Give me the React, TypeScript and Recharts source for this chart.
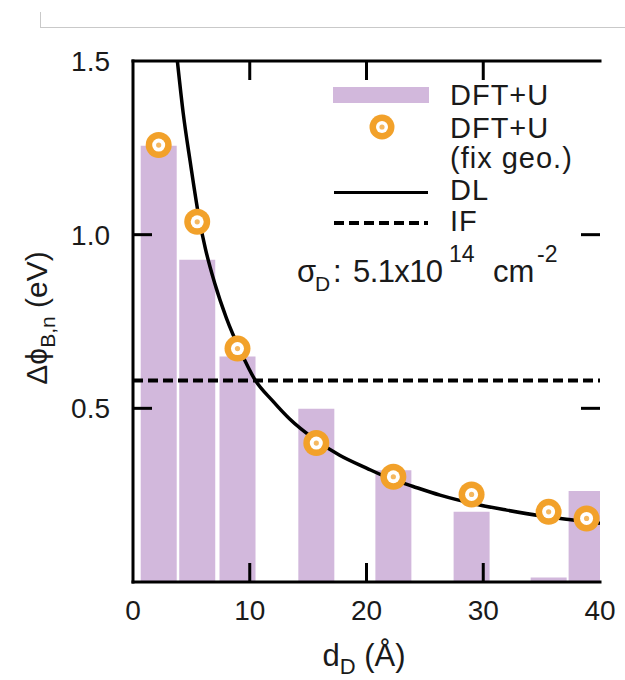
import React from "react";
import {
  ComposedChart, Bar, Line, Scatter, XAxis, YAxis, ReferenceLine,
} from "recharts";

// distance of the defect layer from the interface (Å)
const dValues = [2.2, 5.5, 8.95, 15.7, 22.3, 29.0, 35.6, 38.85];
// barrier change from full DFT+U (eV)
const dftValues = [1.256, 0.928, 0.649, 0.499, 0.322, 0.202, 0.013, 0.262];
// DFT+U with fixed geometry (eV)
const fixGeoValues = [1.258, 1.037, 0.672, 0.4, 0.303, 0.252, 0.202, 0.183];

// dipole-layer model curve
const dlD = [3.8, 4.3, 4.9, 5.7, 6.2, 7.0, 8.0, 9.2, 10.4, 12.0, 13.4, 15.6, 17.7, 20.0, 22.0, 24.0, 26.3, 29.1, 32.0, 35.0, 37.5, 40.0];
const dlValues = [1.5, 1.35, 1.21, 1.04, 0.96, 0.86, 0.76, 0.665, 0.585, 0.52, 0.47, 0.41, 0.365, 0.328, 0.298, 0.275, 0.25, 0.226, 0.207, 0.19, 0.179, 0.169];

// interface-only model (eV)
const ifValue = 0.58;

const xTicks = [0, 10, 20, 30, 40];
const yTicks = [0.5, 1.0, 1.5];
const innerTicksX = [10, 20, 30];
const innerTicksY = [0.5, 1.0];

const barData = dValues.map((d, i) => ({ d, dft: dftValues[i] }));
const fixData = dValues.map((d, i) => ({ d, fix: fixGeoValues[i] }));
const dlData = dlD.map((d, i) => ({ d, dl: dlValues[i] }));

// inward tick marks on all four sides, placed through the chart scales
const tickMarks = [
  ...innerTicksX.map((d) => ({ d, v: 0, side: "bottom" })),
  ...innerTicksX.map((d) => ({ d, v: 1.5, side: "top" })),
  ...innerTicksY.map((v) => ({ d: 0, v, side: "left" })),
  ...innerTicksY.map((v) => ({ d: 40, v, side: "right" })),
];

const PURPLE = "#d2b8dc";
const ORANGE = "#f2a12a";
const FONT = "'Liberation Sans', Arial, Helvetica, sans-serif";
const TICK_LEN = 19;

const frame = { stroke: "#000", strokeWidth: 3, strokeLinecap: "square" as const };
const tickStyle = { fontSize: 28, fill: "#1a1a1a", fontFamily: FONT };
const blank = () => "";

function Ring(props: any) {
  const { cx, cy } = props;
  if (cx == null || cy == null) return null;
  return (
    <g>
      <circle cx={cx} cy={cy} r={13} fill={ORANGE} />
      <circle cx={cx} cy={cy} r={6.5} fill="#fff" />
      <circle cx={cx} cy={cy} r={2.6} fill="#f5b860" />
    </g>
  );
}

function TickMark(props: any) {
  const { cx, cy, payload } = props;
  if (cx == null || cy == null) return null;
  const side = payload?.side;
  let x2 = cx;
  let y2 = cy;
  if (side === "bottom") y2 = cy - TICK_LEN;
  else if (side === "top") y2 = cy + TICK_LEN;
  else if (side === "left") x2 = cx + TICK_LEN;
  else x2 = cx - TICK_LEN;
  return <path d={`M${cx},${cy}L${x2},${y2}`} stroke="#000" strokeWidth={3} fill="none" />;
}

export default function App() {
  return (
    <div style={{ position: "absolute", left: 0, top: 0, width: 625, height: 680, background: "#fff" }}>
      {/* page edge from the cropped figure */}
      <div style={{ position: "absolute", left: 40, top: 27, width: 585, height: 0, borderTop: "1.5px solid #c9c9c9" }} />
      <div style={{ position: "absolute", left: 40, top: 12, width: 0, height: 16, borderLeft: "1.5px solid #c9c9c9" }} />

      <ComposedChart
        width={625}
        height={680}
        data={barData}
        margin={{ top: 61, right: 25, bottom: 58, left: 0 }}
        style={{ position: "absolute", left: 0, top: 0 }}
      >
        <XAxis
          dataKey="d"
          type="number"
          domain={[0, 40]}
          ticks={xTicks}
          interval={0}
          allowDataOverflow
          height={40}
          axisLine={frame}
          tickLine={false}
          tickSize={0}
          tickMargin={18}
          tick={tickStyle}
        />
        <YAxis
          type="number"
          domain={[0, 1.5]}
          ticks={yTicks}
          interval={0}
          allowDataOverflow
          width={133}
          axisLine={frame}
          tickLine={false}
          tickSize={0}
          tickMargin={23}
          tick={tickStyle}
          tickFormatter={(v: number) => v.toFixed(1)}
        />
        {/* axis used only to place the bars */}
        <XAxis xAxisId="bars" dataKey="d" type="number" domain={[0, 40]} allowDataOverflow hide />

        {/* top and right sides of the frame */}
        <XAxis xAxisId="top" orientation="top" mirror type="number" domain={[0, 40]} allowDataOverflow
          ticks={innerTicksX} axisLine={frame} tickLine={false} tickFormatter={blank} />
        <YAxis yAxisId="right" orientation="right" mirror type="number" domain={[0, 1.5]} allowDataOverflow
          ticks={innerTicksY} width={0} axisLine={frame} tickLine={false} tickFormatter={blank} />

        <Bar xAxisId="bars" dataKey="dft" fill={PURPLE} barSize={36} isAnimationActive={false} />
        <Scatter data={fixData} dataKey="fix" shape={Ring} isAnimationActive={false} />
        <ReferenceLine y={ifValue} stroke="#000" strokeWidth={4} strokeDasharray="10 5" />
        <Line
          data={dlData}
          dataKey="dl"
          type="monotone"
          stroke="#000"
          strokeWidth={3.5}
          dot={false}
          activeDot={false}
          isAnimationActive={false}
        />
        <Scatter data={tickMarks} dataKey="v" shape={TickMark} isAnimationActive={false} />
      </ComposedChart>

      {/* legend, annotation and axis titles */}
      <svg
        width={625}
        height={680}
        style={{ position: "absolute", left: 0, top: 0, pointerEvents: "none" }}
        fontFamily={FONT}
        fill="#1a1a1a"
      >
        <g fontSize={29} letterSpacing={1}>
          <rect x={333} y={87} width={96} height={16} fill={PURPLE} />
          <text x={450} y={105}>DFT+U</text>

          <circle cx={382} cy={127} r={12.5} fill={ORANGE} />
          <circle cx={382} cy={127} r={6} fill="#fff" />
          <circle cx={382} cy={127} r={2.6} fill="#f5b860" />
          <text x={450} y={138}>DFT+U</text>
          <text x={450} y={168}>(fix geo.)</text>

          <line x1={334} x2={428} y1={192.5} y2={192.5} stroke="#000" strokeWidth={3} />
          <text x={450} y={200}>DL</text>

          <line x1={334} x2={428} y1={223} y2={223} stroke="#000" strokeWidth={4} strokeDasharray="10 5" />
          <text x={450} y={231}>IF</text>
        </g>

        <g fontSize={31}>
          <text x={297} y={282}>σ</text>
          <text x={315} y={291} fontSize={21}>D</text>
          <text x={333} y={282}>:</text>
          <text x={353} y={282} textLength={90} lengthAdjust="spacing">5.1x10</text>
          <text x={449} y={262} fontSize={23}>14</text>
          <text x={493} y={282}>cm</text>
          <text x={537} y={262} fontSize={23}>-2</text>
        </g>

        <text x={364} y={666} textAnchor="middle" fontSize={31}>
          d<tspan fontSize={22} dy={8}>D</tspan>
          <tspan dy={-8}> (Å)</tspan>
        </text>

        <text x={0} y={0} textAnchor="middle" fontSize={30} transform="translate(47 318) rotate(-90)">
          Δϕ<tspan fontSize={21} dy={8}>B,n</tspan>
          <tspan dy={-8}> (eV)</tspan>
        </text>
      </svg>
    </div>
  );
}
